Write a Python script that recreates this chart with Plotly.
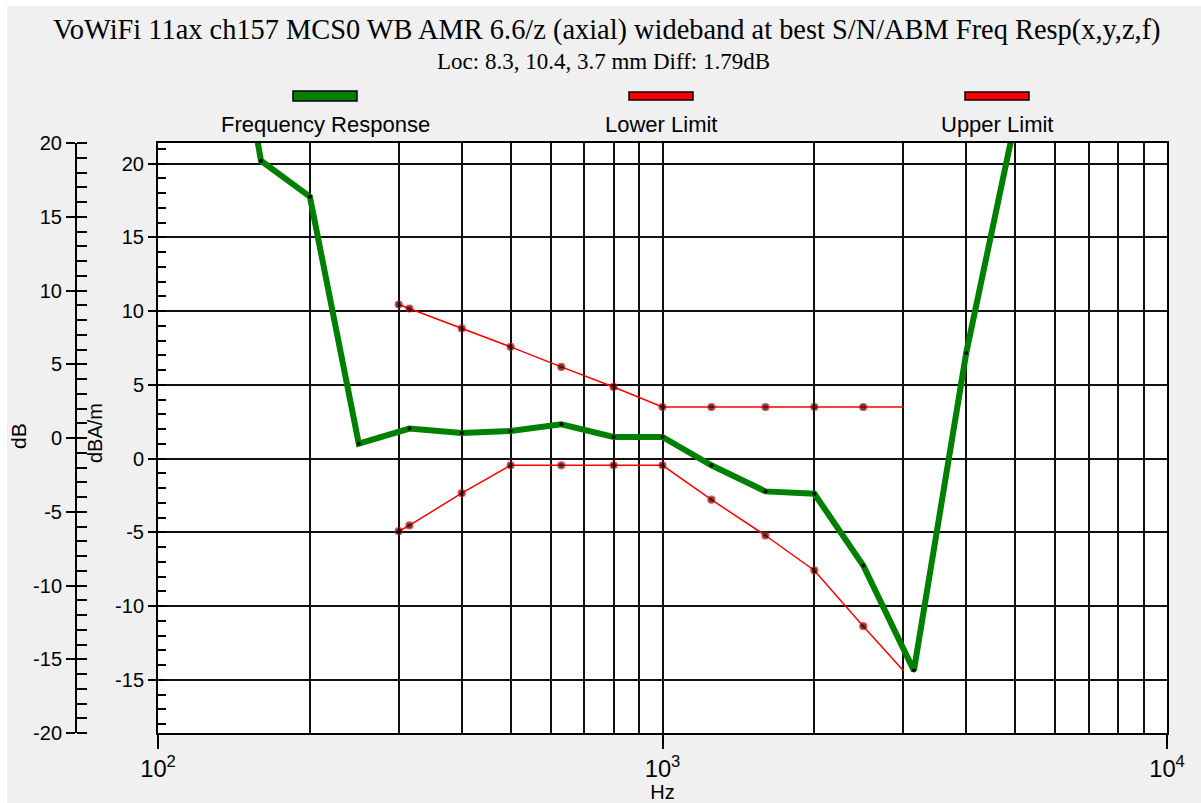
import plotly.graph_objects as go

W, H = 1201, 803

# Measured response (1/3-octave points), dBA/m scale
resp_hz = [125, 160, 200, 250, 315, 400, 500, 630, 800, 1000, 1250, 1600,
           2000, 2500, 3150, 4000, 5000]
resp_db = [41.0, 20.2, 17.76, 1.02, 2.04, 1.74, 1.87, 2.33, 1.47, 1.47,
           -0.45, -2.22, -2.38, -7.24, -14.37, 7.17, 22.9]

# Mask limits
limit_hz = [300, 315, 400, 500, 630, 800, 1000, 1250, 1600, 2000, 2500, 3000]
upper_db = [10.45, 10.18, 8.83, 7.58, 6.22, 4.86, 3.5, 3.5, 3.5, 3.5, 3.5, 3.5]
lower_db = [-4.92, -4.53, -2.34, -0.45, -0.45, -0.45, -0.45, -2.78, -5.21,
            -7.58, -11.36, -14.37]
limit_dot = [7] * 11 + [0]

# Axis tick labels
inner_ticks = [20, 15, 10, 5, 0, -5, -10, -15]
outer_ticks = [20, 15, 10, 5, 0, -5, -10, -15, -20]

legend_names = ["Frequency Response", "Lower Limit", "Upper Limit"]
legend_colors = ["#008000", "#FF0000", "#FF0000"]

title_text = "VoWiFi 11ax ch157 MCS0 WB AMR 6.6/z (axial) wideband at best S/N/ABM Freq Resp(x,y,z,f)"
subtitle_text = "Loc: 8.3, 10.4, 3.7 mm Diff: 1.79dB"


def px(x):
    return x / W


def py(y):
    return 1 - y / H


SANS = "Liberation Sans, Arial, sans-serif"
SERIF = "Liberation Serif, Times New Roman, serif"
GRID = "#111111"

fig = go.Figure()

fig.add_trace(go.Scatter(
    x=resp_hz, y=resp_db, mode="lines+markers",
    line=dict(color="#008000", width=6),
    marker=dict(color="black", size=4),
    name=legend_names[0], showlegend=False,
))
fig.add_trace(go.Scatter(
    x=limit_hz, y=lower_db, mode="lines+markers",
    line=dict(color="#FF0000", width=1.5),
    marker=dict(color="black", size=limit_dot, line=dict(color="#FF0000", width=1.2)),
    name=legend_names[1], showlegend=False,
))
fig.add_trace(go.Scatter(
    x=limit_hz, y=upper_db, mode="lines+markers",
    line=dict(color="#FF0000", width=1.5),
    marker=dict(color="black", size=limit_dot, line=dict(color="#FF0000", width=1.2)),
    name=legend_names[2], showlegend=False,
))
# empty traces so the dB scale axes get drawn
for ax in ("y2", "y3"):
    fig.add_trace(go.Scatter(x=[None], y=[None], yaxis=ax, showlegend=False,
                             hoverinfo="skip"))

x_dom = [px(158), px(1167)]
y_dom = [py(733), py(143)]

fig.update_layout(
    width=W, height=H,
    margin=dict(l=0, r=0, t=0, b=0),
    paper_bgcolor="#F0F0F0",
    plot_bgcolor="white",
    font=dict(family=SANS, size=20, color="black"),
    xaxis=dict(
        type="log", range=[2, 4], domain=x_dom, automargin=False,
        dtick=1, exponentformat="power",
        showline=True, mirror=True, linecolor="black", linewidth=2,
        ticks="outside", ticklen=14, tickwidth=2, tickcolor="black",
        showgrid=True, gridcolor=GRID, gridwidth=2,
        minor=dict(dtick="D1", showgrid=True, gridcolor=GRID, gridwidth=2, ticks=""),
        zeroline=False,
        tickfont=dict(size=19),
        title=dict(text="Hz", font=dict(size=20), standoff=2),
    ),
    yaxis=dict(
        range=[-18.6, 21.4], domain=y_dom, automargin=False,
        tickvals=inner_ticks, ticktext=[str(v) for v in inner_ticks],
        showline=True, mirror=True, linecolor="black", linewidth=2,
        ticks="outside", ticklen=8, tickwidth=2, tickcolor="black",
        minor=dict(tick0=0, dtick=1, ticks="inside", ticklen=8, tickwidth=2, tickcolor="black"),
        showgrid=True, gridcolor=GRID, gridwidth=2,
        zeroline=False,
        tickfont=dict(size=20),
    ),
    yaxis2=dict(
        range=[-20, 20], overlaying="y", anchor="free", position=px(76), side="left",
        automargin=False,
        tickvals=outer_ticks, ticktext=[str(v) for v in outer_ticks],
        showline=True, linecolor="black", linewidth=2,
        ticks="outside", ticklen=9, tickwidth=2, tickcolor="black",
        minor=dict(tick0=0, dtick=1, ticks="inside", ticklen=10, tickwidth=2, tickcolor="black"),
        showgrid=False, zeroline=False,
        tickfont=dict(size=20),
    ),
    yaxis3=dict(
        range=[-20, 20], overlaying="y", anchor="free", position=px(76), side="left",
        automargin=False,
        tickvals=outer_ticks, showticklabels=False,
        ticks="inside", ticklen=10, tickwidth=2, tickcolor="black",
        showline=False, showgrid=False, zeroline=False,
    ),
    showlegend=False,
)

shapes = [
    # white border strips of the window
    dict(type="rect", xref="paper", yref="paper", x0=0, x1=1, y0=py(6), y1=1,
         fillcolor="white", line=dict(width=0), layer="below"),
    dict(type="rect", xref="paper", yref="paper", x0=0, x1=px(7), y0=0, y1=1,
         fillcolor="white", line=dict(width=0), layer="below"),
]
annotations = [
    dict(text=title_text, x=px(607), y=py(30), font=dict(family=SERIF, size=28.4, color="black")),
    dict(text=subtitle_text, x=px(603), y=py(62), font=dict(family=SERIF, size=23, color="black")),
    dict(text="dB", x=px(19), y=py(436), textangle=-90, font=dict(size=21)),
    dict(text="dBA/m", x=px(95), y=py(433), textangle=-90, font=dict(size=20)),
]

# legend swatches above the plot
legend_cx = [325, 661, 997]
for name, col, cx in zip(legend_names, legend_colors, legend_cx):
    h = 5 if col == "#008000" else 4
    shapes.append(dict(type="rect", xref="paper", yref="paper",
                       x0=px(cx - 32), x1=px(cx + 32), y0=py(96 + h), y1=py(96 - h),
                       fillcolor=col, line=dict(color="black", width=1.5)))
    annotations.append(dict(text=name, x=px(cx), y=py(125), font=dict(size=22)))

for a in annotations:
    a.update(xref="paper", yref="paper", showarrow=False, xanchor="center", yanchor="middle")

fig.update_layout(shapes=shapes, annotations=annotations)

fig.write_html("out.html")
